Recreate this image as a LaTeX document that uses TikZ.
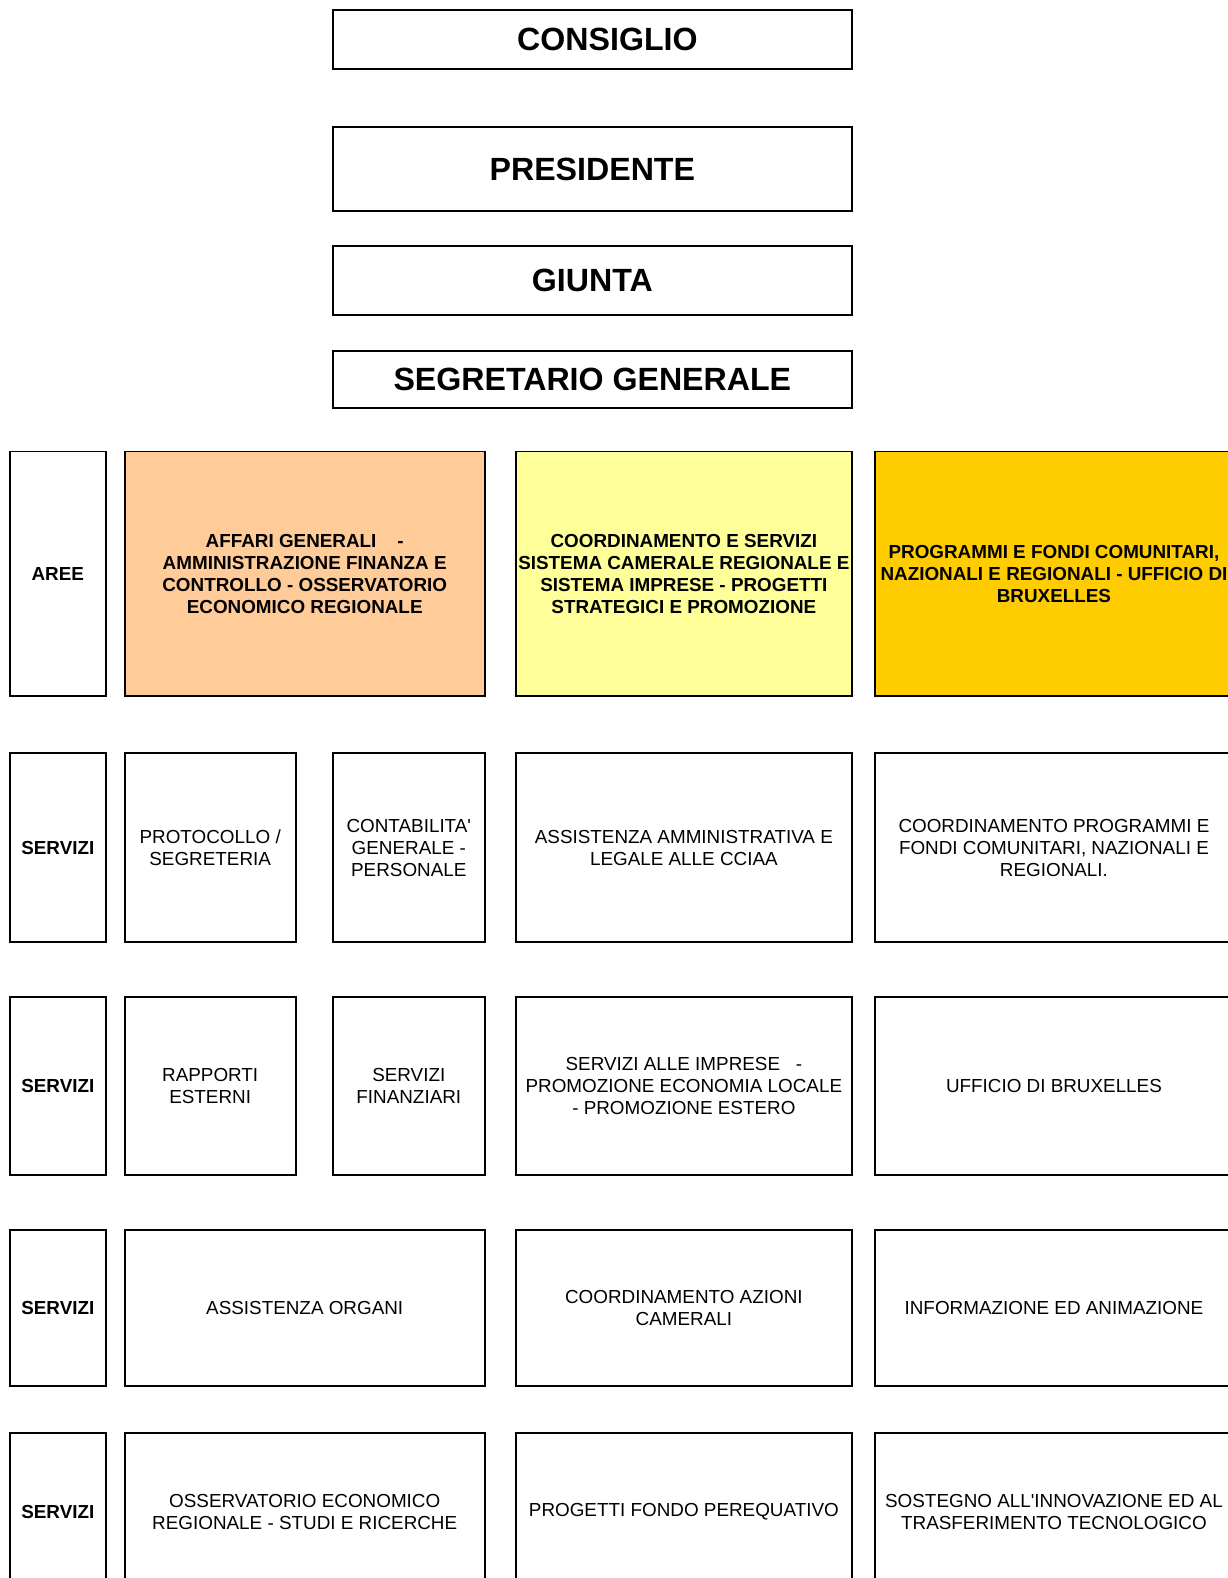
\documentclass[tikz,border=0pt]{standalone}
\usepackage{fontspec}
\setmainfont{Liberation Sans}
\definecolor{salmone}{HTML}{FFCC99}
\definecolor{giallino}{HTML}{FFFF99}
\definecolor{oro}{HTML}{FFCC00}
\newdimen\unita
\unita=0.7543bp
\begin{document}
\begin{tikzpicture}[x=\unita,y=-\unita]
\tikzstyle{every node}=[font=\fontsize{14.2}{16.5}\selectfont]
\tikzstyle{box}=[draw, line width=1.4pt, align=center, inner sep=0pt, overlay]
\tikzstyle{vertice}=[box, minimum width=516*\unita, font=\fontsize{24.2}{28}\selectfont\bfseries]
\tikzstyle{area}=[box, minimum height=243*\unita, font=\fontsize{14.2}{16.5}\selectfont\bfseries]
\tikzstyle{titolo}=[box, minimum width=95*\unita, font=\fontsize{14.2}{16.5}\selectfont\bfseries]
\tikzstyle{colA}=[box, minimum width=170*\unita]
\tikzstyle{colB}=[box, minimum width=151*\unita]
\tikzstyle{colAB}=[box, minimum width=358*\unita]
\tikzstyle{colC}=[box, minimum width=334*\unita]
\tikzstyle{colD}=[box, minimum width=356*\unita]
\useasboundingbox (0,0) rectangle (1221,1569.1);
% vertici
\node[vertice, minimum height=59*\unita] (consiglio) at (589,39.5) {\hspace*{30\unita}CONSIGLIO};
\node[vertice, minimum height=84*\unita] (presidente) at (589,168) {PRESIDENTE};
\node[vertice, minimum height=68*\unita] (giunta) at (589,279) {GIUNTA};
\node[vertice, minimum height=57*\unita] (segretario) at (589,377.5) {SEGRETARIO GENERALE};
% aree
\node[area, titolo] (aree) at (57.5,570.5) {AREE};
\node[area, minimum width=358*\unita, fill=salmone] (affari) at (303,570.5) {AFFARI GENERALI \ \ \ -\\AMMINISTRAZIONE FINANZA E\\CONTROLLO - OSSERVATORIO\\ECONOMICO REGIONALE};
\node[area, minimum width=334*\unita, fill=giallino] (coordinamento) at (680,570.5) {COORDINAMENTO E SERVIZI\\SISTEMA CAMERALE REGIONALE E\\SISTEMA IMPRESE - PROGETTI\\STRATEGICI E PROMOZIONE};
\node[area, minimum width=356*\unita, fill=oro] (programmi) at (1048,570.5) {PROGRAMMI E FONDI COMUNITARI,\\NAZIONALI E REGIONALI - UFFICIO DI\\BRUXELLES};
% servizi, riga 1
\node[titolo, minimum height=188*\unita] (servizi1) at (57.5,843) {SERVIZI};
\node[colA, minimum height=188*\unita] (protocollo) at (209,843) {PROTOCOLLO /\\SEGRETERIA};
\node[colB, minimum height=188*\unita] (contabilita) at (406.5,843) {CONTABILITA\textquotesingle\\GENERALE -\\PERSONALE};
\node[colC, minimum height=188*\unita] (assistenza) at (680,843) {ASSISTENZA AMMINISTRATIVA E\\LEGALE ALLE CCIAA};
\node[colD, minimum height=188*\unita] (coordprog) at (1048,843) {COORDINAMENTO PROGRAMMI E\\FONDI COMUNITARI, NAZIONALI E\\REGIONALI.};
% servizi, riga 2
\node[titolo, minimum height=177*\unita] (servizi2) at (57.5,1079.5) {SERVIZI};
\node[colA, minimum height=177*\unita] (rapporti) at (209,1079.5) {RAPPORTI\\ESTERNI};
\node[colB, minimum height=177*\unita] (finanziari) at (406.5,1079.5) {SERVIZI\\FINANZIARI};
\node[colC, minimum height=177*\unita] (imprese) at (680,1079.5) {SERVIZI ALLE IMPRESE \ \ -\\PROMOZIONE ECONOMIA LOCALE\\- PROMOZIONE ESTERO};
\node[colD, minimum height=177*\unita] (bruxelles) at (1048,1079.5) {UFFICIO DI BRUXELLES};
% servizi, riga 3
\node[titolo, minimum height=155*\unita] (servizi3) at (57.5,1300.5) {SERVIZI};
\node[colAB, minimum height=155*\unita] (organi) at (303,1300.5) {ASSISTENZA ORGANI};
\node[colC, minimum height=155*\unita] (azioni) at (680,1300.5) {COORDINAMENTO AZIONI\\CAMERALI};
\node[colD, minimum height=155*\unita] (informazione) at (1048,1300.5) {INFORMAZIONE ED ANIMAZIONE};
% servizi, riga 4
\node[titolo, minimum height=157*\unita] (servizi4) at (57.5,1503.5) {SERVIZI};
\node[colAB, minimum height=157*\unita] (osservatorio) at (303,1503.5) {OSSERVATORIO ECONOMICO\\REGIONALE - STUDI E RICERCHE};
\node[colC, minimum height=157*\unita] (perequativo) at (680,1503.5) {PROGETTI FONDO PEREQUATIVO};
\node[colD, minimum height=157*\unita] (innovazione) at (1048,1503.5) {SOSTEGNO ALL\textquotesingle INNOVAZIONE ED AL\\TRASFERIMENTO TECNOLOGICO};
\end{tikzpicture}
\end{document}
